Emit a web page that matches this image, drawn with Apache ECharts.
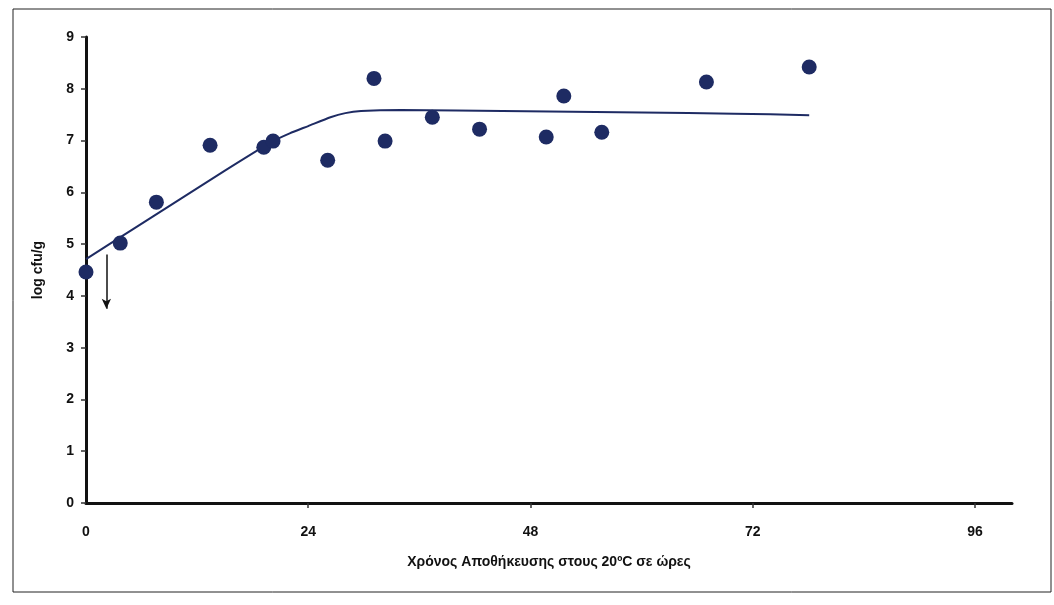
<!DOCTYPE html>
<html>
<head>
<meta charset="utf-8">
<script src="https://cdn.jsdelivr.net/npm/echarts@6/dist/echarts.min.js"></script>
<style>
  html, body { margin: 0; padding: 0; background: #fff; }
  #chart { width: 1054px; height: 605px; }
</style>
</head>
<body>
<div id="chart"></div>
<script>
// Observed counts (hours at 20 °C, log cfu/g)
const obsHours = [0, 3.7, 7.6, 13.4, 19.2, 20.2, 26.1, 31.1, 32.3, 37.4, 42.5, 49.7, 51.6, 55.7, 67.0, 78.1];
const obsLog   = [4.46, 5.02, 5.81, 6.91, 6.87, 6.99, 6.62, 8.20, 6.99, 7.45, 7.22, 7.07, 7.86, 7.16, 8.13, 8.42];

// Fitted growth curve
const fitHours = [0, 5, 10, 15, 20, 22, 24, 26.4, 28, 29.7, 34, 40, 50, 60, 70, 78.1];
const fitLog   = [4.71, 5.28, 5.85, 6.42, 6.97, 7.14, 7.28, 7.45, 7.53, 7.57, 7.59, 7.58, 7.56, 7.54, 7.52, 7.49];

// Arrow marking the first count (below detection)
const arrowHour = 2.2;
const arrowFrom = 4.8;
const arrowTo = 3.75;

// Axis ticks
const xTicks = [0, 24, 48, 72, 96];
const yTicks = [0, 1, 2, 3, 4, 5, 6, 7, 8, 9];

const xAxisTitle = 'Χρόνος Αποθήκευσης στους 20ºC σε ώρες';
const yAxisTitle = 'log cfu/g';

const navy = '#1e2b63';
const font = 'Liberation Sans, Arial, sans-serif';

const chart = echarts.init(document.getElementById('chart'), null, { renderer: 'canvas' });

chart.setOption({
  animation: false,
  backgroundColor: '#ffffff',
  grid: { left: 86, right: 42, top: 37, bottom: 102, containLabel: false },
  graphic: [{
    type: 'rect',
    shape: { x: 13, y: 9, width: 1038, height: 583 },
    style: { fill: 'none', stroke: '#222', lineWidth: 1 },
    silent: true
  }],
  xAxis: {
    type: 'value',
    min: 0,
    max: 100,
    interval: 24,
    name: xAxisTitle,
    nameLocation: 'middle',
    nameGap: 52,
    nameTextStyle: { fontFamily: font, fontSize: 14, fontWeight: 'bold', color: '#111' },
    axisLine: { show: true, onZero: false, lineStyle: { color: '#111', width: 3 } },
    axisTick: { show: true, customValues: xTicks.slice(1), length: 5, inside: false, lineStyle: { color: '#333', width: 1.5 } },
    axisLabel: { customValues: xTicks, margin: 22, fontFamily: font, fontSize: 14, fontWeight: 'bold', color: '#111' },
    splitLine: { show: false }
  },
  yAxis: {
    type: 'value',
    min: 0,
    max: 9,
    interval: 1,
    name: yAxisTitle,
    nameLocation: 'middle',
    nameGap: 41,
    nameRotate: 90,
    nameTextStyle: { fontFamily: font, fontSize: 14, fontWeight: 'bold', color: '#111' },
    axisLine: { show: true, lineStyle: { color: '#111', width: 3 } },
    axisTick: { show: true, customValues: yTicks, length: 5, lineStyle: { color: '#333', width: 1.5 } },
    axisLabel: { customValues: yTicks, margin: 12, fontFamily: font, fontSize: 14, fontWeight: 'bold', color: '#111' },
    splitLine: { show: false }
  },
  series: [
    {
      name: 'fit',
      type: 'line',
      data: fitHours.map((h, i) => [h, fitLog[i]]),
      smooth: 0.2,
      showSymbol: false,
      lineStyle: { color: navy, width: 2 },
      z: 2,
      markLine: {
        silent: true,
        symbolSize: [7, 10],
        label: { show: false },
        lineStyle: { color: '#111', width: 1.5, type: 'solid' },
        data: [[
          { coord: [arrowHour, arrowFrom], symbol: 'none' },
          { coord: [arrowHour, arrowTo], symbol: 'arrow' }
        ]]
      }
    },
    {
      name: 'observed',
      type: 'scatter',
      data: obsHours.map((h, i) => [h, obsLog[i]]),
      symbol: 'circle',
      symbolSize: 15,
      itemStyle: { color: navy, opacity: 1 },
      z: 3
    }
  ]
});
</script>
</body>
</html>
